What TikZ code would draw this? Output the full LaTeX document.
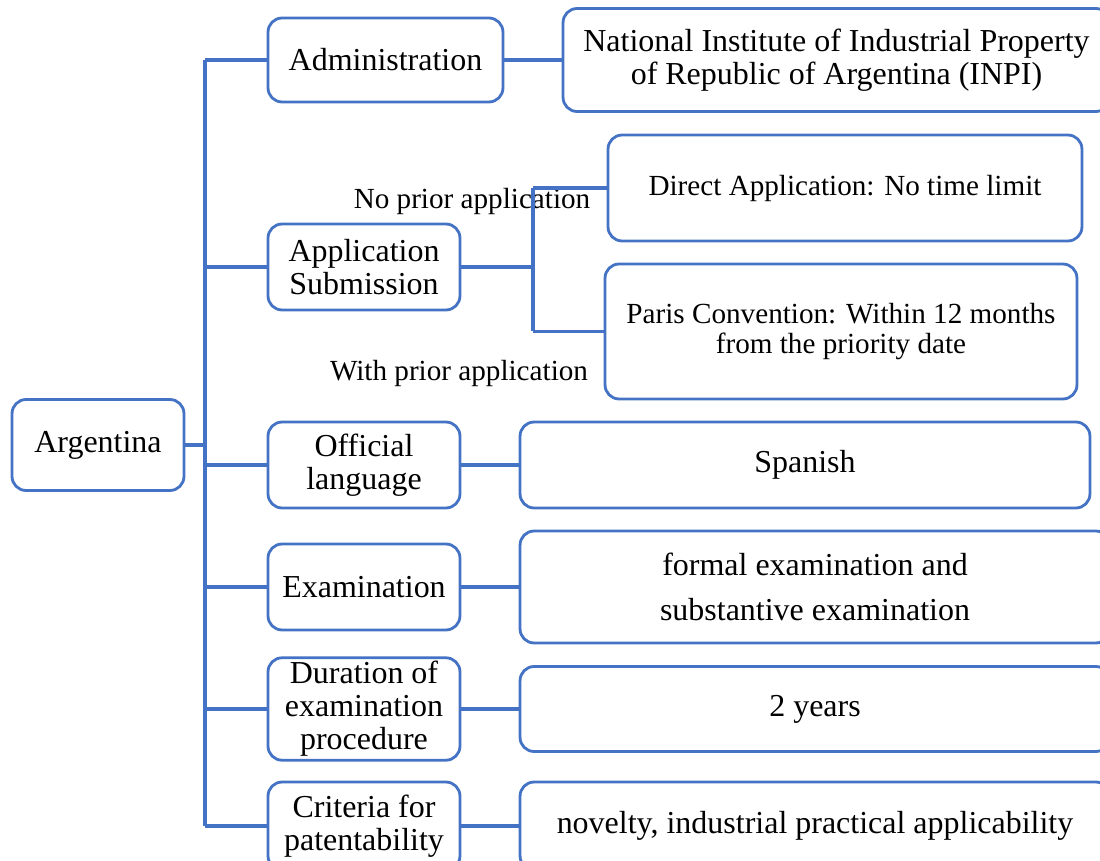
\documentclass[tikz,border=0pt]{standalone}
\usepackage{fontspec}
\setmainfont{Liberation Serif}
\usepackage{tikz}
\definecolor{boxblue}{RGB}{68,114,196}

\begin{document}
\begin{tikzpicture}[x=0.02cm, y=-0.02cm,
	box/.style={draw=boxblue, line width=1.6pt, rounded corners=8pt, align=center, inner sep=2pt, font=\fontsize{18.2}{18.8}\selectfont},
	sbox/.style={box, font=\fontsize{16.6}{17.6}\selectfont},
	lbl/.style={inner sep=0pt, font=\fontsize{16.6}{17.6}\selectfont},
	link/.style={draw=boxblue, line width=2pt}]
			\useasboundingbox (0,0) rectangle (1100,861);
			\clip (0,0) rectangle (1100,861);
			\node[box, minimum width=3.44cm, minimum height=1.82cm] (arg) at (98,445) {Argentina};
			\node[box, minimum width=4.70cm, minimum height=1.68cm] (admin) at (385.5,60) {Administration};
			\node[box, minimum width=10.94cm, minimum height=2.06cm] (inpi) at (836.5,60) {National Institute of Industrial Property\\of Republic of Argentina (INPI)};
			\node[box, minimum width=3.84cm, minimum height=1.72cm] (appsub) at (364,267) {Application\\Submission};
			\node[sbox, minimum width=9.48cm, minimum height=2.12cm] (direct) at (845,188) {Direct Application: No time limit};
			\node[sbox, minimum width=9.44cm, minimum height=2.70cm] (paris) at (841,331.5) {Paris Convention: Within 12 months\\from the priority date};
			\node[box, minimum width=3.84cm, minimum height=1.72cm] (lang) at (364,465) {Official\\language};
			\node[box, minimum width=11.40cm, minimum height=1.72cm] (spanish) at (805,465) {Spanish};
			\node[box, minimum width=3.84cm, minimum height=1.72cm] (exam) at (364,587) {Examination};
			\node[box, minimum width=11.80cm, minimum height=2.24cm, font=\fontsize{18.2}{25.6}\selectfont] (formal) at (815,587) {formal examination and\\substantive examination};
			\node[box, minimum width=3.84cm, minimum height=2.04cm] (dur) at (364,709) {Duration of\\examination\\procedure};
			\node[box, minimum width=11.80cm, minimum height=1.70cm] (years) at (815,709) {2 years};
			\node[box, minimum width=3.84cm, minimum height=1.76cm] (crit) at (364,826) {Criteria for\\patentability};
			\node[box, minimum width=11.80cm, minimum height=1.76cm] (novel) at (815,826) {novelty, industrial practical applicability};
			\node[lbl] (lblno) at (472,201) {No prior application};
			\node[lbl] (lblwith) at (459,373) {With prior application};
			\coordinate (tr) at (205,445);
			\coordinate (br) at (533,267);
			\draw[link] (arg.east) -- (tr);
			\draw[link] (tr |- admin.west) -- (tr |- crit.west);
			\foreach \n in {admin, appsub, lang, exam, dur, crit}
				\draw[link] (tr |- \n.west) -- (\n.west);
			\draw[link] (admin.east) -- (inpi.west);
			\draw[link] (appsub.east) -- (br);
			\draw[link] (br |- direct.west) -- (br |- paris.west);
			\draw[link] (br |- direct.west) -- (direct.west);
			\draw[link] (br |- paris.west) -- (paris.west);
			\draw[link] (lang.east) -- (spanish.west);
			\draw[link] (exam.east) -- (formal.west);
			\draw[link] (dur.east) -- (years.west);
			\draw[link] (crit.east) -- (novel.west);
		\end{tikzpicture}
\end{document}
